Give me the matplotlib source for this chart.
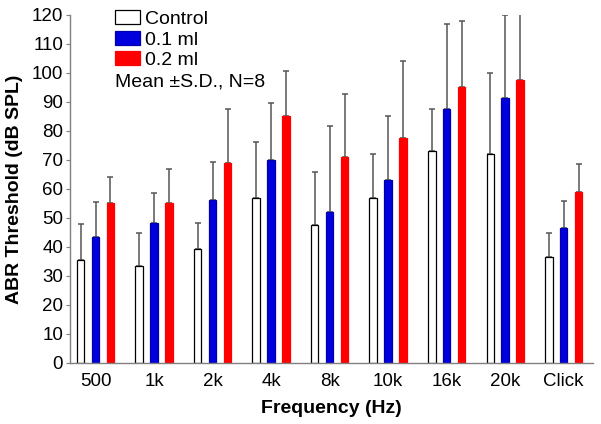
import matplotlib
matplotlib.use("Agg")
import matplotlib.pyplot as plt
import numpy as np

plt.rcParams['font.family'] = ['Liberation Sans', 'DejaVu Sans']

categories = ["500", "1k", "2k", "4k", "8k", "10k", "16k", "20k", "Click"]
control_mean = [35.5, 33.5, 39.2, 56.7, 47.5, 57.0, 73.0, 72.0, 36.5]
control_sd   = [12.4, 11.2, 9.0, 19.4, 18.2, 15.1, 14.5, 27.9, 8.4]
low_mean     = [43.5, 48.3, 56.0, 70.0, 52.0, 63.0, 87.5, 91.5, 46.5]
low_sd       = [12.1, 10.2, 13.4, 19.5, 29.8, 22.3, 29.4, 28.4, 9.2]
high_mean    = [55.0, 55.0, 69.0, 85.0, 71.0, 77.5, 95.0, 97.5, 59.0]
high_sd      = [9.2, 11.8, 18.6, 15.8, 21.6, 26.6, 22.8, 25.0, 9.5]
series_labels = ["Control", "0.1 ml", "0.2 ml"]

fig = plt.figure(figsize=(6.01, 4.24), dpi=100)
ax = fig.add_axes([0.1165, 0.144, 0.8702, 0.821])

x = np.arange(len(categories))
w = 0.128
off = 0.255
fs = 14
tfs = 13.5
ecol = '#555555'

series = [(control_mean, control_sd, 'white', 'black'),
          (low_mean, low_sd, '#0000dd', '#0000aa'),
          (high_mean, high_sd, '#ff0000', '#ff0000')]
handles = []
for i, (m, s, fc, ec) in enumerate(series):
    pos = x + (i - 1) * off
    b = ax.bar(pos, m, width=w, color=fc, edgecolor=ec, linewidth=0.9,
               label=series_labels[i], zorder=2)
    handles.append(b)
    ax.errorbar(pos, m, yerr=[np.zeros(len(m)), s], fmt='none',
                ecolor=ecol, elinewidth=1.1, capsize=2, capthick=1.1, zorder=1)

ax.set_xlim(-0.436, 8.5)
ax.set_ylim(0, 120)
ax.set_yticks(np.arange(0, 121, 10))
ax.set_xticks(x)
ax.set_xticklabels(categories, fontsize=tfs)
ax.tick_params(axis='y', labelsize=tfs, length=3, color='#808080', pad=2)
ax.tick_params(axis='x', length=0, pad=7.5)
for sp in ['top', 'right']:
    ax.spines[sp].set_visible(False)
ax.spines['left'].set_color('#808080')
ax.spines['bottom'].set_color('#808080')
ax.spines['left'].set_linewidth(1.0)
ax.spines['bottom'].set_linewidth(1.0)

ax.set_xlabel("Frequency (Hz)", fontsize=fs, fontweight='bold', labelpad=7)
ax.set_ylabel("ABR Threshold (dB SPL)", fontsize=fs, fontweight='bold', labelpad=6)

leg = ax.legend(handles=handles, loc='upper left', bbox_to_anchor=(0.071, 1.035),
                frameon=False, fontsize=fs, handlelength=1.3, handleheight=0.7,
                handletextpad=0.25, labelspacing=0.15, borderaxespad=0)
ax.text(0.086, 0.808, "Mean \u00b1S.D., N=8", transform=ax.transAxes,
        fontsize=fs, va='center', ha='left')

fig.savefig("out.png", dpi=100)
